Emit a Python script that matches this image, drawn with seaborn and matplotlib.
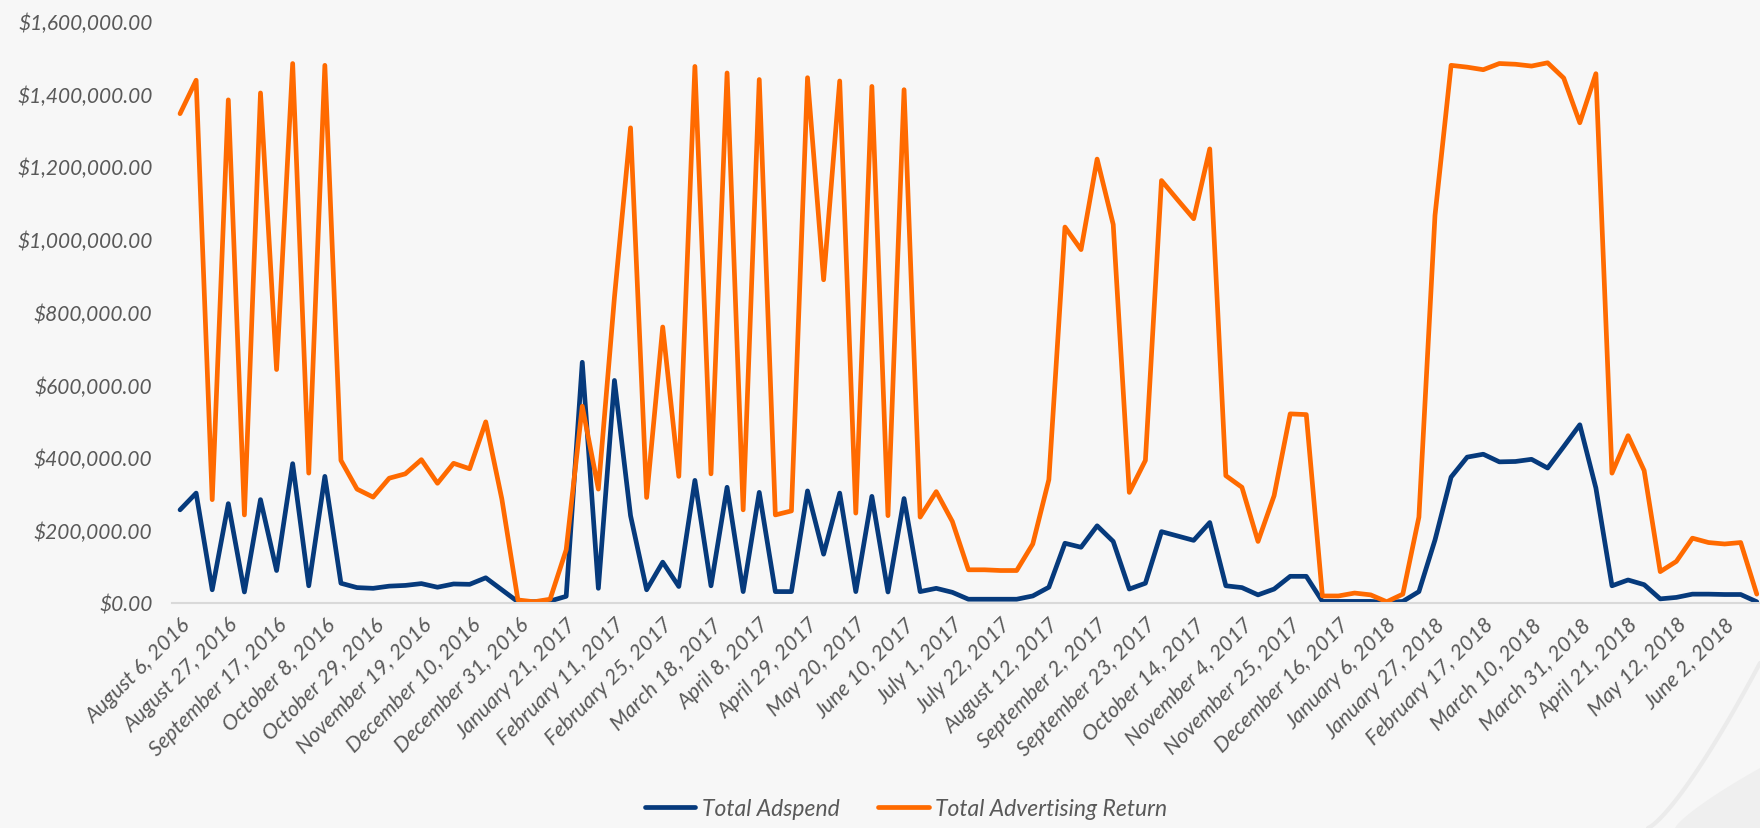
import matplotlib
matplotlib.use("Agg")
import matplotlib.pyplot as plt
import matplotlib.ticker as mticker
from matplotlib.patches import Polygon
import numpy as np
import pandas as pd
import seaborn as sns

# Weekly totals, Aug 2016 - Jun 2018 (99 reporting weeks)
adspend = [
    255000, 301000, 35000, 272000, 29000, 283000, 88000, 382000, 46000, 347000,
    53000, 41000, 39000, 45000, 47000, 52000, 42000, 51000, 50000, 68000,
    35000, 2000, 2000, 4000, 17000, 661000, 39000, 611000, 239000, 35000,
    111000, 44000, 336000, 46000, 317000, 30000, 303000, 30000, 30000, 307000,
    133000, 301000, 30000, 292000, 29000, 286000, 30000, 39000, 28000, 9000,
    9000, 9000, 9000, 18000, 42000, 163000, 152000, 211000, 168000, 37000,
    53000, 195000, 183000, 171000, 220000, 46000, 41000, 21000, 37000, 72000,
    72000, 3000, 3000, 3000, 3000, 0, 3000, 30000, 172000, 345000,
    400000, 408000, 387000, 388000, 394000, 370000, 429000, 489000, 315000, 46000,
    62000, 49000, 10000, 14000, 23000, 23000, 22000, 22000, 2000,
]
ad_return = [
    1345000, 1437000, 283000, 1383000, 241000, 1402000, 641000, 1483000, 356000, 1478000,
    391000, 312000, 290000, 342000, 354000, 393000, 328000, 383000, 368000, 497000,
    285000, 7000, 2000, 9000, 145000, 540000, 312000, 840000, 1306000, 289000,
    758000, 347000, 1475000, 354000, 1457000, 255000, 1439000, 241000, 252000, 1444000,
    888000, 1435000, 246000, 1420000, 239000, 1411000, 235000, 305000, 223000, 90000,
    90000, 88000, 88000, 161000, 338000, 1033000, 971000, 1220000, 1040000, 303000,
    391000, 1161000, 1108000, 1056000, 1248000, 349000, 317000, 168000, 294000, 519000,
    517000, 18000, 18000, 26000, 21000, 2000, 23000, 235000, 1065000, 1478000,
    1473000, 1466000, 1483000, 1481000, 1476000, 1485000, 1443000, 1320000, 1455000, 356000,
    459000, 363000, 85000, 113000, 177000, 165000, 161000, 165000, 23000,
]
week_labels = [
    "August 6, 2016", "August 27, 2016", "September 17, 2016", "October 8, 2016",
    "October 29, 2016", "November 19, 2016", "December 10, 2016", "December 31, 2016",
    "January 21, 2017", "February 11, 2017", "February 25, 2017", "March 18, 2017",
    "April 8, 2017", "April 29, 2017", "May 20, 2017", "June 10, 2017",
    "July 1, 2017", "July 22, 2017", "August 12, 2017", "September 2, 2017",
    "September 23, 2017", "October 14, 2017", "November 4, 2017", "November 25, 2017",
    "December 16, 2017", "January 6, 2018", "January 27, 2018", "February 17, 2018",
    "March 10, 2018", "March 31, 2018", "April 21, 2018", "May 12, 2018",
    "June 2, 2018",
]
series_names = ["Total Adspend", "Total Advertising Return"]
series_colors = ["#063a7c", "#ff6a00"]

week = np.arange(len(adspend))
df = pd.DataFrame({
    "week": np.concatenate([week, week]),
    "value": np.concatenate([adspend, ad_return]),
    "series": [series_names[0]] * len(week) + [series_names[1]] * len(week),
})

sns.set_theme(style="white")
plt.rcParams["font.family"] = ["Lato", "DejaVu Sans"]
bg = "#f7f7f7"
text_color = "#595959"
W, H = 1760, 829

fig = plt.figure(figsize=(W / 100, H / 100), dpi=100, facecolor=bg)

# faint decorative swoosh in the lower-right corner
t = np.linspace(0, 1, 60)
sx = 1648 + 112 * t ** 0.9
sy = 829 - 165 * t ** 1.15
fig.add_artist(plt.Line2D(sx / W, 1 - sy / H, color="#ebebeb", linewidth=3, transform=fig.transFigure, zorder=0))
bx = 1675 + 85 * t
by = 829 - 60 * t ** 0.8
pts = np.column_stack([np.r_[bx, W], np.r_[1 - by / H, 0]])
pts[:, 0] /= W
fig.add_artist(Polygon(pts, closed=True, facecolor="#efefef", edgecolor="none", transform=fig.transFigure, zorder=0))

ax = fig.add_axes([172 / W, 1 - 603.5 / H, 1 - 172 / W, (603.5 - 22) / H])
ax.set_facecolor("none")

sns.lineplot(data=df, x="week", y="value", hue="series", hue_order=series_names,
             palette=series_colors, linewidth=3.4, ax=ax, legend=False,
             solid_joinstyle="round", solid_capstyle="round")

ax.set_xlim(-0.5, 98.2)
ax.set_ylim(0, 1600000)
ax.yaxis.set_major_locator(mticker.MultipleLocator(200000))
ax.yaxis.set_major_formatter(mticker.FuncFormatter(lambda v, p: f"${v:,.2f}"))
ax.set_xticks(week[::3])
ax.set_xticklabels(week_labels, rotation=45, ha="right", rotation_mode="anchor")
ax.set_xlabel("")
ax.set_ylabel("")

for lab in ax.get_yticklabels():
    lab.set_fontstyle("italic")
    lab.set_color(text_color)
    lab.set_fontsize(15)
for lab in ax.get_xticklabels():
    lab.set_fontstyle("italic")
    lab.set_color(text_color)
    lab.set_fontsize(15.5)
ax.tick_params(axis="x", length=0, pad=8)
ax.tick_params(axis="y", length=0, pad=14)

for side in ["top", "right", "left"]:
    ax.spines[side].set_visible(False)
ax.spines["bottom"].set_color("#d9d9d9")
ax.spines["bottom"].set_linewidth(1.5)
ax.grid(False)

handles = [plt.Line2D([], [], color=c, linewidth=3.4, solid_capstyle="round") for c in series_colors]
leg = fig.legend(handles, series_names, loc="center", bbox_to_anchor=(906 / W, 1 - 810 / H),
                 ncol=2, frameon=False, handlelength=2.2, columnspacing=1.7, handletextpad=0.28,
                 prop={"style": "italic", "size": 16.5})
for txt in leg.get_texts():
    txt.set_color(text_color)

fig.savefig("out.png", dpi=100, facecolor=bg)
